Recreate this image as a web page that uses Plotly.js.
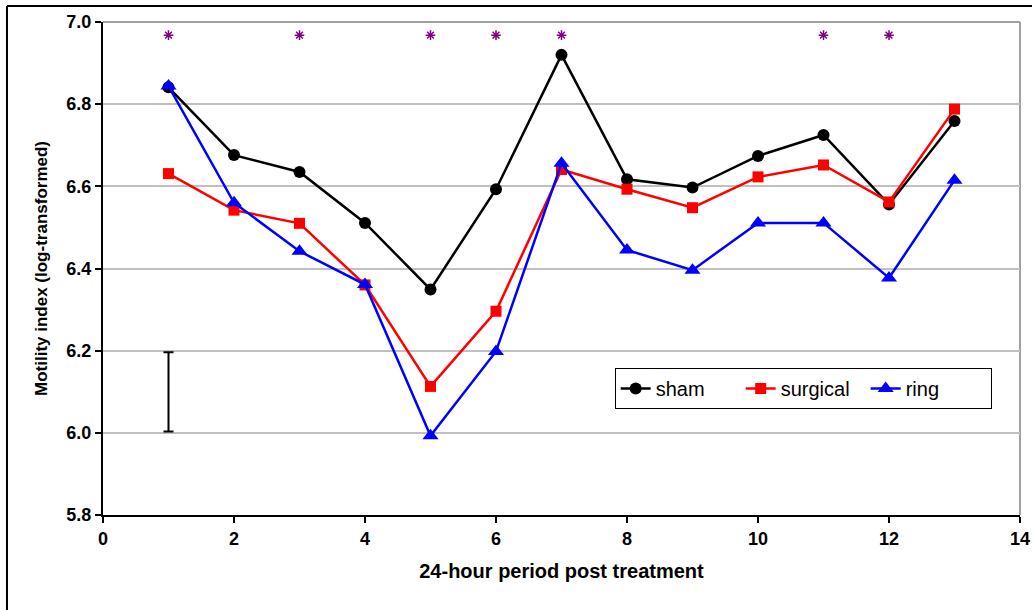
<!DOCTYPE html>
<html>
<head>
<meta charset="utf-8">
<script src="https://cdn.plot.ly/plotly-3.0.1.min.js"></script>
<style>html,body{margin:0;padding:0;background:#fff;}#chart{width:1032px;height:610px;}</style>
</head>
<body>
<div id="chart"></div>
<script>
var periods = [1,2,3,4,5,6,7,8,9,10,11,12,13];
var sham     = [6.841,6.676,6.635,6.511,6.349,6.593,6.920,6.617,6.597,6.674,6.725,6.556,6.759];
var surgical = [6.631,6.542,6.510,6.360,6.113,6.296,6.641,6.593,6.548,6.623,6.652,6.562,6.788];
var ring     = [6.844,6.560,6.442,6.361,5.993,6.198,6.656,6.445,6.396,6.511,6.511,6.377,6.615];
var sigX = [1,3,5,6,7,11,12];
var sigY = [6.968,6.968,6.968,6.968,6.968,6.968,6.968];
var errX = [1];
var errLow = [6.003];
var errHigh = [6.196];

var errMid = errLow.map(function(v,i){return (v+errHigh[i])/2;});
var errHalf = errLow.map(function(v,i){return (errHigh[i]-v)/2;});

var traces = [
  {x: periods, y: sham, name: 'sham', type: 'scatter', mode: 'lines+markers',
   line: {color: '#000000', width: 2.5}, marker: {symbol: 'circle', size: 12, color: '#000000'}},
  {x: periods, y: surgical, name: 'surgical', type: 'scatter', mode: 'lines+markers',
   line: {color: '#ff0000', width: 2.5}, marker: {symbol: 'square', size: 11, color: '#ff0000'}},
  {x: periods, y: ring, name: 'ring', type: 'scatter', mode: 'lines+markers',
   line: {color: '#0000ff', width: 2.5}, marker: {symbol: 'triangle-up', size: 14, color: '#0000ff'}},
  {x: sigX, y: sigY, name: 'sig', type: 'scatter', mode: 'markers', showlegend: false,
   marker: {symbol: 'asterisk-open', size: 8, color: '#800080', line: {color: '#800080', width: 1.5}}},
  {x: errX, y: errMid, name: 'err', type: 'scatter', mode: 'markers', showlegend: false,
   marker: {size: 1, color: 'rgba(0,0,0,0)'},
   error_y: {type: 'data', array: errHalf, visible: true, color: '#000000', thickness: 2, width: 5}}
];

var layout = {
  width: 1032, height: 610,
  margin: {l: 103, r: 12, t: 22, b: 95, autoexpand: false},
  paper_bgcolor: '#ffffff', plot_bgcolor: '#ffffff',
  font: {family: 'Liberation Sans, Arial, sans-serif', color: '#000000'},
  showlegend: true,
  legend: {orientation: 'h', x: 0.558, y: 0.298, xanchor: 'left', yanchor: 'top',
    bordercolor: '#000000', borderwidth: 1, bgcolor: '#ffffff',
    font: {size: 20, family: 'Liberation Sans, Arial, sans-serif'},
    itemwidth: 30, entrywidth: 80, tracegroupgap: 0},
  xaxis: {range: [0, 14], dtick: 2, tick0: 0, showgrid: false, zeroline: false,
    showline: true, linecolor: '#000000', linewidth: 2,
    ticks: 'outside', ticklen: 6, tickwidth: 2, tickcolor: '#000000',
    tickfont: {size: 18, weight: 'bold'},
    title: {text: '24-hour period post treatment', font: {size: 20, weight: 'bold'}, standoff: 16}},
  yaxis: {range: [5.8, 7.0], dtick: 0.2, tick0: 5.8, tickformat: '.1f',
    showgrid: true, gridcolor: '#c0c0c0', gridwidth: 2, zeroline: false,
    showline: true, linecolor: '#000000', linewidth: 2,
    ticks: 'outside', ticklen: 6, tickwidth: 2, tickcolor: '#000000',
    tickfont: {size: 18, weight: 'bold'},
    title: {text: 'Motility index (log-transformed)', font: {size: 17, weight: 'bold'}, standoff: 14}},
  shapes: [
    {type: 'line', xref: 'paper', yref: 'paper', x0: 0, x1: 1, y0: 1, y1: 1,
     line: {color: '#a0a0a0', width: 2}, layer: 'below'},
    {type: 'line', xref: 'paper', yref: 'paper', x0: 1, x1: 1, y0: 0, y1: 1,
     line: {color: '#a0a0a0', width: 2}, layer: 'below'},
    {type: 'line', xref: 'paper', yref: 'paper', x0: -0.1047, x1: -0.1047, y0: -0.25, y1: 1.0325,
     line: {color: '#000000', width: 2}, layer: 'below'},
    {type: 'line', xref: 'paper', yref: 'paper', x0: -0.1047, x1: 1.02, y0: 1.0325, y1: 1.0325,
     line: {color: '#000000', width: 2}, layer: 'below'}
  ]
};

Plotly.newPlot('chart', traces, layout, {displayModeBar: false, staticPlot: true});
</script>
</body>
</html>
